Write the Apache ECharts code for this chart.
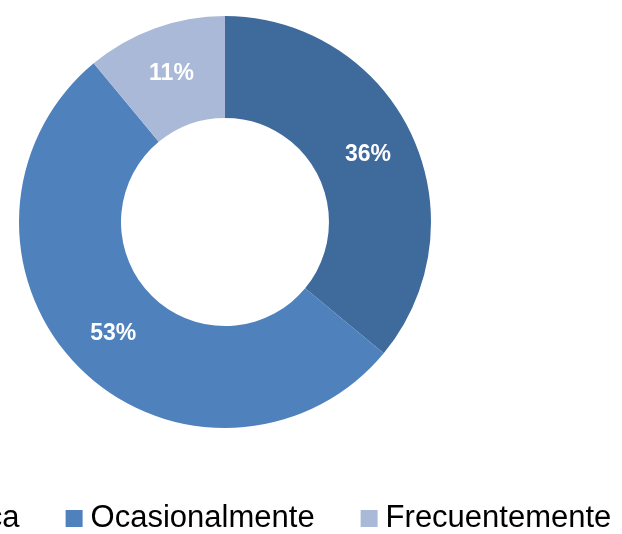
<!DOCTYPE html>
<html>
<head>
<meta charset="utf-8">
<script src="https://cdn.jsdelivr.net/npm/echarts@6/dist/echarts.min.js"></script>
<style>
  html, body { margin: 0; padding: 0; background: #fff; }
  #chart { width: 622px; height: 534px; }
</style>
</head>
<body>
<div id="chart"></div>
<script>
const categories = ['Nunca', 'Ocasionalmente', 'Frecuentemente']
const values = [36, 53, 11]
const colors = ['#3F6A9C', '#4F81BD', '#A9B9D7']

const font = '"Liberation Sans", Arial, sans-serif'

const chart = echarts.init(document.getElementById('chart'))

chart.setOption({
  animation: false,
  color: colors,
  legend: {
    data: categories,
    left: -95,
    top: 503,
    width: 900,
    padding: 0,
    itemGap: 46,
    itemWidth: 17,
    itemHeight: 17,
    icon: 'rect',
    textStyle: {
      fontFamily: font,
      fontSize: 31,
      color: '#000',
      padding: [0, 0, 0, 3]
    }
  },
  series: [
    {
      type: 'pie',
      center: [225, 222],
      radius: [104, 206],
      startAngle: 90,
      clockwise: true,
      avoidLabelOverlap: false,
      label: {
        position: 'inside',
        formatter: '{c}%',
        color: '#fff',
        fontFamily: font,
        fontWeight: 'bold',
        fontSize: 23
      },
      labelLine: { show: false },
      itemStyle: { borderWidth: 0 },
      emphasis: { disabled: true },
      data: categories.map((name, i) => ({ name, value: values[i] }))
    }
  ]
})
</script>
</body>
</html>
